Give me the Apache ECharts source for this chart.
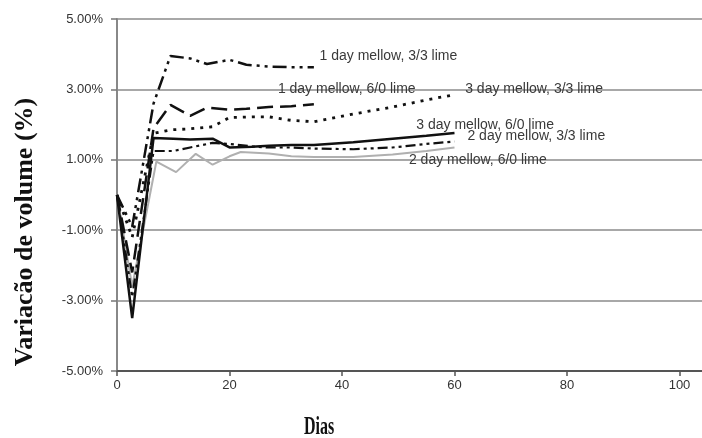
<!DOCTYPE html>
<html>
<head>
<meta charset="utf-8">
<script src="https://cdn.jsdelivr.net/npm/echarts@6/dist/echarts.min.js"></script>
<style>html,body{margin:0;padding:0;background:#fff}#c{width:702px;height:438px}</style>
</head>
<body>
<div id="c"></div>
<script>
// Data: [day, volume change %]
const s1d33 = [[0,0],[2.7,-0.9],[6.5,2.6],[9.5,3.95],[13,3.88],[16,3.72],[20,3.84],[23,3.7],[27,3.65],[31,3.63],[35,3.63]];
const s1d60 = [[0,0],[2.7,-2.2],[6.5,1.9],[9.5,2.56],[13,2.25],[16,2.48],[20,2.42],[23,2.45],[27,2.5],[31,2.52],[35,2.58]];
const s3d33 = [[0,0],[2.7,-1.2],[6.5,1.75],[9.5,1.85],[13,1.88],[17,1.94],[20,2.2],[24,2.22],[27,2.22],[31,2.12],[35,2.08],[42,2.3],[49,2.5],[55,2.7],[60,2.85]];
const s3d60 = [[0,0],[2.7,-3.5],[6.5,1.62],[10,1.6],[13,1.58],[17,1.6],[20,1.35],[24,1.37],[27,1.4],[31,1.42],[35,1.42],[42,1.5],[49,1.6],[55,1.68],[60,1.76]];
const s2d33 = [[0,0],[2.7,-2.9],[6.5,1.25],[10,1.25],[13,1.35],[17,1.48],[20,1.45],[24,1.38],[27,1.35],[31,1.35],[35,1.32],[42,1.3],[49,1.35],[55,1.45],[60,1.52]];
const s2d60 = [[0,0],[2.7,-2.6],[7,0.95],[10.5,0.65],[14,1.17],[17,0.86],[20,1.1],[22,1.22],[27,1.18],[31,1.1],[35,1.08],[42,1.08],[49,1.15],[55,1.25],[60,1.35]];
const seriesNames = ['1 day mellow, 3/3 lime','1 day mellow, 6/0 lime','3 day mellow, 3/3 lime','3 day mellow, 6/0 lime','2 day mellow, 3/3 lime','2 day mellow, 6/0 lime'];
// label anchor (data coords) for each series annotation
const labelAnchors = [[36,3.95],[28.6,3.0],[61.9,3.0],[53.2,1.99],[62.3,1.68],[51.9,1.0]];
const xTicks = [0,20,40,60,80,100];
const yTicks = [-5,-3,-1,1,3,5];

const dataSets = [s1d33,s1d60,s3d33,s3d60,s2d33,s2d60];
const styles = [
  {color:'#111', type:[14,5,3,5,3,5], width:2.5},
  {color:'#111', type:[16,7], width:2.5},
  {color:'#111', type:[3,6], width:2.8},
  {color:'#111', type:'solid', width:2.5},
  {color:'#111', type:[10,4,3,4,3,4], width:2.2},
  {color:'#b0b0b0', type:'solid', width:2}
];

const chart = echarts.init(document.getElementById('c'), null, {renderer:'canvas'});
const series = dataSets.map((d,i)=>({
  name: seriesNames[i],
  type:'line',
  data:d,
  symbol:'none',
  z: i===5 ? 1 : 3,
  lineStyle:{color:styles[i].color, type:styles[i].type, width:styles[i].width, cap:'butt'},
  markPoint:{
    symbol:'circle', symbolSize:0, silent:true,
    data:[{coord:labelAnchors[i]}],
    label:{show:true, position:'right', distance:0, formatter:seriesNames[i],
      fontFamily:'Liberation Sans, Arial, sans-serif', fontSize:14, color:'#3a3a3a'}
  }
}));

chart.setOption({
  animation:false,
  backgroundColor:'#fff',
  grid:{left:117, right:0, top:19, bottom:67, outerBoundsMode:'none', containLabel:false},
  xAxis:{
    type:'value', min:0, max:104, interval:20,
    axisLine:{show:true, onZero:false, lineStyle:{color:'#555', width:2}},
    axisTick:{show:true, length:5, lineStyle:{color:'#555', width:1.5}},
    axisLabel:{showMaxLabel:false, fontFamily:'Liberation Sans, Arial, sans-serif', fontSize:13, color:'#333', margin:8},
    splitLine:{show:false}
  },
  yAxis:{
    type:'value', min:-5, max:5, interval:2,
    axisLine:{show:true, lineStyle:{color:'#888', width:2}},
    axisTick:{show:true, length:6, lineStyle:{color:'#777', width:1.5}},
    axisLabel:{formatter:v=>v.toFixed(2)+'%', fontFamily:'Liberation Sans, Arial, sans-serif', fontSize:13, color:'#333', margin:14},
    splitLine:{show:true, lineStyle:{color:'#a8a8a8', width:2}}
  },
  graphic:[{
    type:'text', x:25, y:232, rotation:Math.PI/2,
    style:{text:'Variacão de volume (%)', font:'bold 26px "Liberation Serif", serif', fill:'#111', align:'center', verticalAlign:'middle'}
  },{
    type:'text', left:304, top:415, scaleY:1.55,
    style:{text:'Dias', font:'bold 16px "Liberation Serif", serif', fill:'#111'}
  }],
  series:series
});
</script>
</body>
</html>
